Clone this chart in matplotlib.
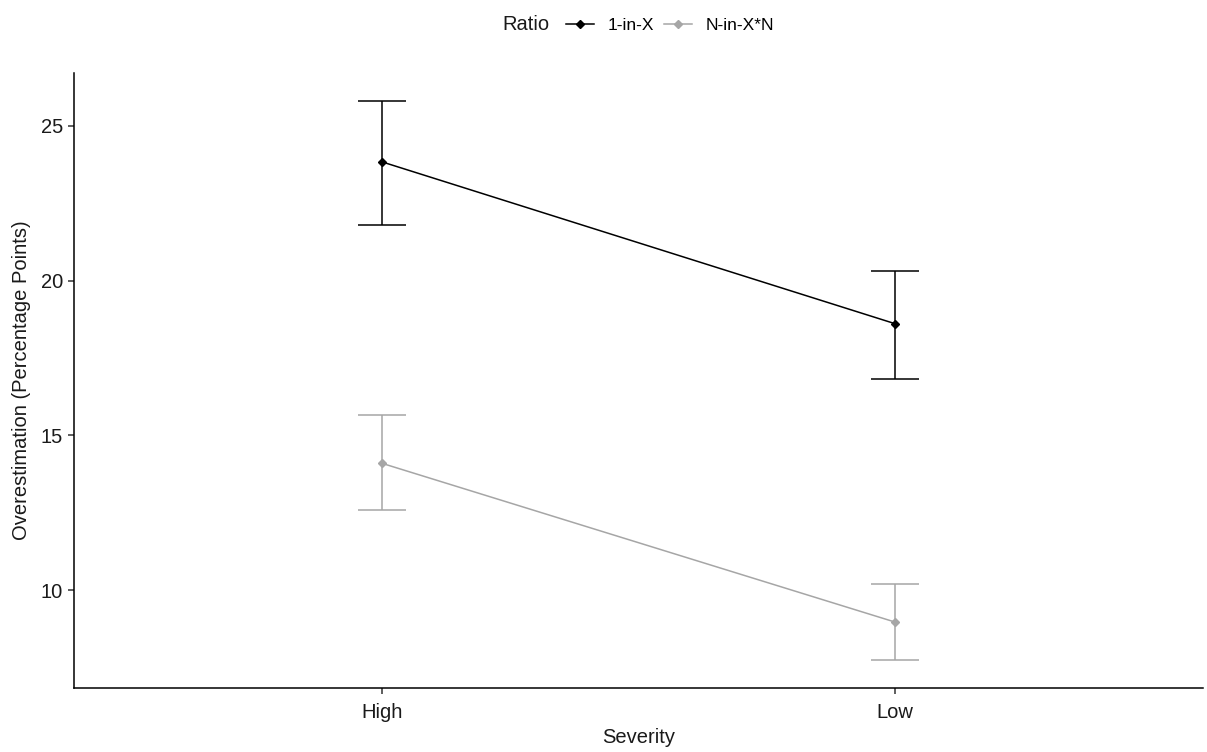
import numpy as np
import matplotlib
matplotlib.use("Agg")
from matplotlib import pyplot as plt
from matplotlib.lines import Line2D

plt.rcParams['font.family'] = ['Liberation Sans', 'DejaVu Sans']

# data
severity = ['High', 'Low']
ratios = ['1-in-X', 'N-in-X*N']
colors = ['#000000', '#a6a6a6']
means = {'1-in-X': [23.84, 18.61], 'N-in-X*N': [14.10, 8.97]}
upper = {'1-in-X': [25.81, 20.32], 'N-in-X*N': [15.65, 10.19]}
lower = {'1-in-X': [21.81, 16.84], 'N-in-X*N': [12.58, 7.74]}

fig = plt.figure(figsize=(12.07, 7.52), dpi=100)
ax = fig.add_axes([0.0613, 0.0851, 0.9354, 0.8178])

x = np.arange(1, len(severity) + 1)
for r, c in zip(ratios, colors):
    m = np.array(means[r])
    lo = m - np.array(lower[r])
    hi = np.array(upper[r]) - m
    ax.errorbar(x, m, yerr=[lo, hi], color=c, lw=1.1, elinewidth=1.1,
                capsize=17.6, capthick=1.1, marker='D', ms=4.2, label=r)

ax.set_xlim(0.4, 2.6)
ax.set_ylim(6.84, 26.71)
ax.set_xticks(x)
ax.set_xticklabels(severity)
ax.set_yticks([10, 15, 20, 25])
ax.spines['top'].set_visible(False)
ax.spines['right'].set_visible(False)
ax.spines['left'].set_linewidth(1.1)
ax.spines['bottom'].set_linewidth(1.1)
ax.tick_params(direction='out', length=4, width=1.1, labelsize=14.5, colors='#333333', labelcolor='#1a1a1a')
ax.tick_params(axis='x', pad=7)
ax.tick_params(axis='y', pad=4)
ax.set_xlabel('Severity', fontsize=14.5, color='#1a1a1a', labelpad=4)
ax.set_ylabel('Overestimation (Percentage Points)', fontsize=14.5, color='#1a1a1a', labelpad=7)

# legend at the top, title to the left
fig.text(502 / 1207, 1 - 25 / 752, 'Ratio', fontsize=14.5, color='#1a1a1a', ha='left', va='center')
handles = [Line2D([0], [0], color=c, marker='D', ms=4.2, lw=1.1) for c in colors]
fig.legend(handles, ratios, loc='center left', bbox_to_anchor=(566 / 1207, 1 - 25 / 752),
           ncol=2, frameon=False, fontsize=12.5, handlelength=1.6,
           handletextpad=0.8, columnspacing=0.57, borderpad=0, borderaxespad=0)

fig.savefig('out.png', dpi=100)
